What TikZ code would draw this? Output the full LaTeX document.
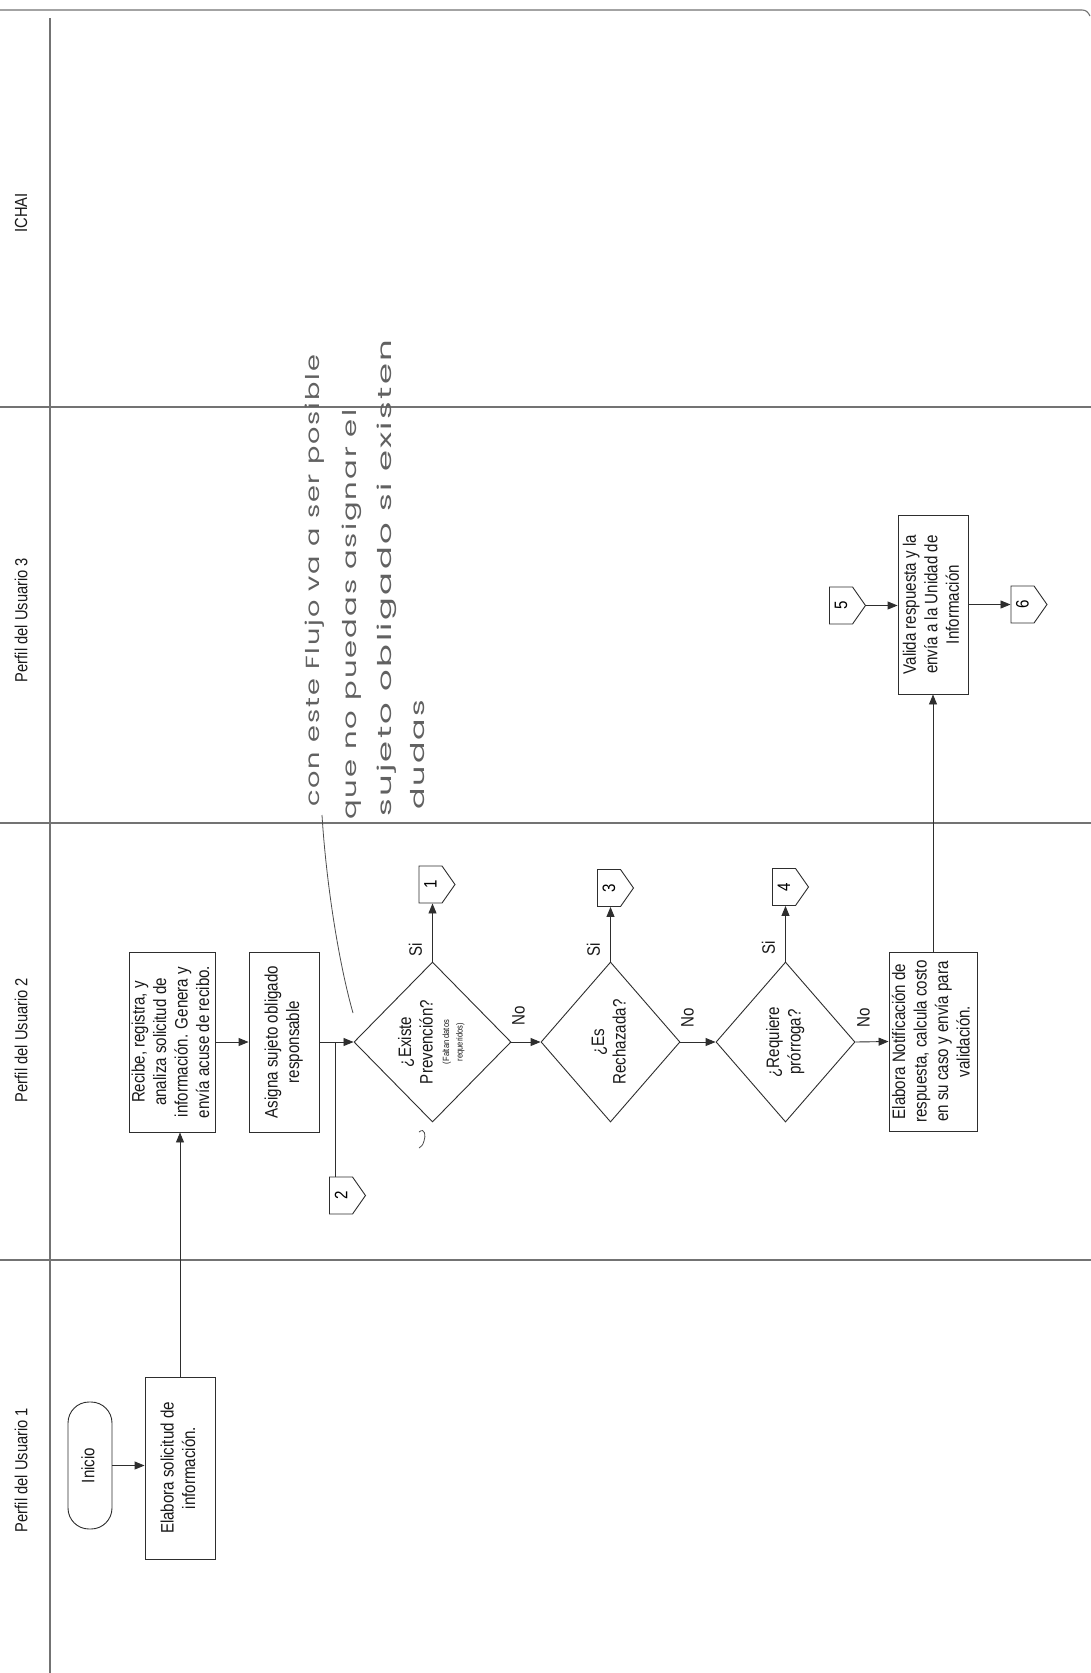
\documentclass[tikz,border=0pt]{standalone}
\usepackage{fontspec}
\setmainfont{Liberation Sans}[FakeStretch=0.84]
\newfontfamily\handfont{Poppins}[LetterSpace=7]
\usepackage{graphicx}
\usetikzlibrary{arrows.meta,shapes.geometric,shapes.symbols}
\newcommand{\rt}[1]{\rotatebox{90}{\begin{tabular}{@{}c@{}}#1\end{tabular}}}
\newcommand{\hw}[2]{\resizebox{#1}{\height}{\handfont\fontsize{19}{21}\selectfont #2}}
\begin{document}
\begin{tikzpicture}[x=1pt,y=-1pt,
  flow/.style={draw=black!82, line width=0.9pt},
  procbox/.style={flow, rectangle, inner sep=0pt, font=\fontsize{18}{21.5}\selectfont, text=black!90},
  terminal/.style={procbox, rounded corners=21pt},
  decision/.style={flow, diamond, inner sep=0pt, minimum width=139pt, minimum height=160pt, font=\fontsize{18}{21.5}\selectfont, text=black!90},
  offpage/.style={flow, signal, signal to=east, signal from=nowhere, signal pointer angle=110, minimum width=36pt, minimum height=37pt, inner sep=0pt, font=\fontsize{18}{20}\selectfont},
  arr/.style={flow, -{Triangle[length=10pt,width=8pt]}},
  lane/.style={draw=black!55, line width=1.1pt},
  lanelbl/.style={font=\fontsize{17.5}{20}\selectfont, inner sep=0pt, rotate=90, text=black!90},
  yesno/.style={font=\fontsize{18}{20}\selectfont, inner sep=0pt, rotate=90, text=black!90},
  hand/.style={text=black!62, inner sep=0pt, rotate=90, anchor=base west},
  annot/.style={draw=black!70, line width=0.8pt},
]
\fill[white] (0,0) rectangle (1091,1673);
\useasboundingbox (0,0) rectangle (1091,1673);

% lanes
\draw[lane] (0,10) -- (1082,10) .. controls (1086,10) and (1088,12) .. (1090,16);
\draw[lane] (0,407) -- (1091,407);
\draw[lane] (0,823) -- (1091,823);
\draw[lane] (0,1260) -- (1091,1260);
\draw[lane] (50,18) -- (50,1673);

\node[lanelbl] (lichai) at (21,213) {ICHAI};
\node[lanelbl] (lp3) at (21,620) {Perfil del Usuario 3};
\node[lanelbl] (lp2) at (21,1040) {Perfil del Usuario 2};
\node[lanelbl] (lp1) at (21,1470) {Perfil del Usuario 1};

% process nodes
\node[terminal, minimum width=44pt, minimum height=127pt] (inicio) at (90,1465.5) {\rt{Inicio}};
\node[procbox, minimum width=70pt, minimum height=182pt] (elab) at (180,1468) {\rt{Elabora solicitud de\\información.}};
\node[procbox, minimum width=85pt, minimum height=180pt] (recibe) at (172.5,1042) {\rt{Recibe, registra, y\\analiza solicitud de\\información. Genera y\\envía acuse de recibo.}};
\node[procbox, minimum width=70pt, minimum height=180pt] (asigna) at (284,1042) {\rt{Asigna sujeto obligado\\responsable}};
\node[decision] (d1) at (432.5,1042) {\rt{¿Existe\\Prevención?\\[-5pt]{\fontsize{9}{10}\selectfont(Faltan datos}\\[-8pt]{\fontsize{9}{10}\selectfont requeridos)}}};
\node[decision] (d2) at (610.5,1042) {\rt{¿Es\\Rechazada?}};
\node[decision] (d3) at (785.5,1042) {\rt{¿Requiere\\prórroga?}};
\node[procbox, minimum width=88pt, minimum height=179pt] (notif) at (933,1041.5) {\rt{Elabora Notificación de\\respuesta, calcula costo\\en su caso y envía para\\validación.}};
\node[procbox, minimum width=70pt, minimum height=179pt] (valida) at (933,604.5) {\rt{Valida respuesta y la\\envía a la Unidad de\\Información}};

% off-page connectors
\node[offpage] (c1) at (430.5,884.5) {\rotatebox{90}{1}};
\node[offpage] (c2) at (341,1195.5) {\rotatebox{90}{2}};
\node[offpage] (c3) at (609,888) {\rotatebox{90}{3}};
\node[offpage] (c4) at (784,887) {\rotatebox{90}{4}};
\node[offpage] (c5) at (841,605.5) {\rotatebox{90}{5}};
\node[offpage] (c6) at (1022.5,604.5) {\rotatebox{90}{6}};

% connectors
\draw[arr] (inicio.east) -- (inicio.east -| elab.west);
\draw[arr] (elab.north) -- (elab.north |- recibe.south);
\draw[arr] (recibe.east) -- (asigna.west);
\draw[arr] (asigna.east) -- (d1.west);
\coordinate (j2) at (335,1042);
\draw[flow] (j2) -- (j2 |- c2.north);
\draw[arr] (d1.north) -- (d1.north |- c1.south);
\draw[arr] (d1.east) -- (d2.west);
\draw[arr] (d2.north) -- (d2.north |- c3.south);
\draw[arr] (d2.east) -- (d3.west);
\draw[arr] (d3.north) -- (d3.north |- c4.south);
\draw[arr] (d3.east) -- (notif.west);
\draw[arr] (notif.north) -- (valida.south);
\draw[arr] (c5.east) -- (c5.east -| valida.west);
\draw[arr] (valida.east) -- (valida.east -| c6.west);

% yes / no labels
\node[yesno] (si1) at ([shift={(-17,-12)}]d1.north) {Si};
\node[yesno] (no1) at ([shift={(7,-26)}]d1.east) {No};
\node[yesno] (si2) at ([shift={(-17,-12)}]d2.north) {Si};
\node[yesno] (no2) at ([shift={(7,-24)}]d2.east) {No};
\node[yesno] (si3) at ([shift={(-17,-14)}]d3.north) {Si};
\node[yesno] (no3) at ([shift={(8,-24)}]d3.east) {No};

% handwritten note
\node[hand] (h1) at (319,807) {\hw{452pt}{con este Flujo va a ser posible}};
\node[hand] (h2) at (356,820) {\hw{410pt}{que no puedas asignar el}};
\node[hand] (h3) at (391,817) {\hw{477pt}{sujeto obligado si existen}};
\node[hand] (h4) at (424,810) {\hw{110pt}{dudas}};
\coordinate (a0) at (322,815);
\coordinate (a1) at (353,1013);
\draw[annot] (a0) .. controls (326,880) and (338,960) .. (a1);
\draw[annot] (419,1132) .. controls (425,1127) and (426,1136) .. (424,1141) .. controls (423,1145) and (421,1147) .. (419,1148);
\end{tikzpicture}
\end{document}
